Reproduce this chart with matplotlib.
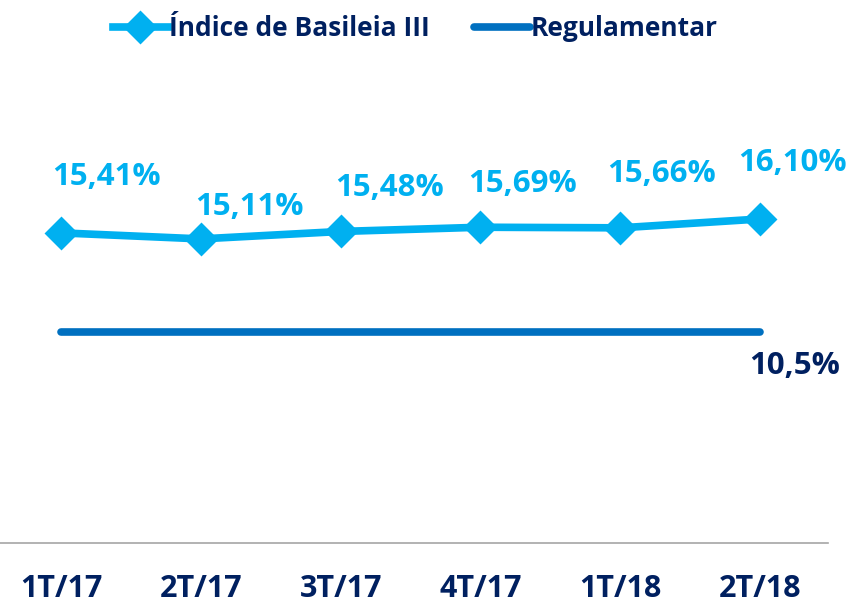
import matplotlib
matplotlib.use("Agg")
import matplotlib.pyplot as plt

# data
quarters = ["1T/17", "2T/17", "3T/17", "4T/17", "1T/18", "2T/18"]
basileia = [15.41, 15.11, 15.48, 15.69, 15.66, 16.10]
basileia_labels = ["15,41%", "15,11%", "15,48%", "15,69%", "15,66%", "16,10%"]
regulamentar = [10.5] * len(quarters)
regulamentar_label = "10,5%"

# label offsets in points (dx, dy) above each marker
label_offsets = [(33, 40), (35, 23), (35, 31), (30, 31), (30, 39), (23, 40)]

light_blue = "#00B0F0"
mid_blue = "#0070C0"
navy = "#002060"

plt.rcParams["font.family"] = ["Open Sans", "DejaVu Sans"]
plt.rcParams["font.weight"] = "bold"

fig = plt.figure(figsize=(8.52, 6.07), dpi=100)
ax = fig.add_axes([0.0, 0.105, 0.972, 0.813])

x = list(range(len(quarters)))
ax.plot(x, regulamentar, color=mid_blue, lw=5.5, solid_capstyle="round",
        label="Regulamentar", zorder=2)
ax.plot(x, basileia, color=light_blue, lw=5.5, marker="D", markersize=15,
        markeredgewidth=2, markeredgecolor=light_blue, solid_joinstyle="round",
        label="Índice de Basileia III", zorder=3)

for i in x:
    dx, dy = label_offsets[i]
    ax.annotate(basileia_labels[i], (i, basileia[i]), xytext=(dx, dy),
                textcoords="offset points", ha="center", va="center",
                color=light_blue, fontsize=22.5, fontweight="bold")

ax.annotate(regulamentar_label, (x[-1], regulamentar[-1]), xytext=(25, -25),
            textcoords="offset points", ha="center", va="center",
            color=navy, fontsize=22.5, fontweight="bold")

ax.set_xlim(-0.436, 5.486)
ax.set_ylim(0, 24.5)
ax.set_xticks(x)
ax.set_xticklabels(quarters, fontsize=22, fontweight="bold", color=navy)
ax.tick_params(axis="x", length=0, pad=22)
ax.set_yticks([])
for s in ["top", "right", "left"]:
    ax.spines[s].set_visible(False)
ax.spines["bottom"].set_color("#A6A6A6")
ax.spines["bottom"].set_linewidth(1.2)

handles, labels = ax.get_legend_handles_labels()
leg = fig.legend(handles[::-1], labels[::-1], loc="center", bbox_to_anchor=(0.487, 0.953),
                 ncol=2, frameon=False, handlelength=2.1, handletextpad=0.02,
                 columnspacing=1.7, prop={"size": 19, "weight": "bold"})
for t in leg.get_texts():
    t.set_color(navy)

fig.savefig("out.png", dpi=100)
